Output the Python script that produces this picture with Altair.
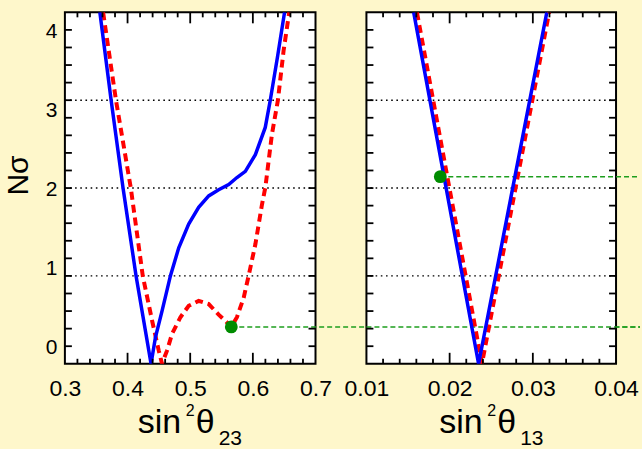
import altair as alt
import pandas as pd

# ---------------- data ----------------
# left panel: sin^2(theta23)
L_BLUE_X = [0.3558, 0.3738, 0.3928, 0.4136, 0.4375, 0.4445, 0.455, 0.4684, 0.4817,
            0.4976, 0.5135, 0.5295, 0.5454, 0.5614, 0.5746, 0.588, 0.604, 0.6198,
            0.6278, 0.6395, 0.6506]
L_BLUE_Y = [4.0, 3.0, 2.0, 1.0, 0.0, 0.30, 0.60, 1.0, 1.32,
            1.59, 1.78, 1.91, 1.98, 2.04, 2.12, 2.19, 2.38, 2.69,
            3.0, 3.5, 4.0]
L_RED_X = [0.361, 0.3815, 0.4052, 0.4243, 0.4392, 0.4498, 0.455, 0.463, 0.471,
           0.4844, 0.4976, 0.5135, 0.5295, 0.5454, 0.5587, 0.5656, 0.5746, 0.5853,
           0.5932, 0.604, 0.6145, 0.620, 0.6304, 0.640, 0.649, 0.658]
L_RED_Y = [4.0, 3.0, 2.0, 1.0, 0.49, 0.15, 0.0, 0.15, 0.34,
           0.53, 0.66, 0.716, 0.68, 0.56, 0.47, 0.42, 0.53, 0.75,
           1.0, 1.36, 1.81, 2.01, 2.61, 3.0, 3.56, 4.0]
L_DOT_X = [0.5656]
L_DOT_Y = [0.42]

# right panel: sin^2(theta13)
R_BLUE_X = [0.01568, 0.02348, 0.03168]
R_BLUE_Y = [4.0, 0.0, 4.0]
R_RED_X = [0.01607, 0.02388, 0.03196]
R_RED_Y = [4.0, 0.0, 4.0]
R_DOT_X = [0.01888]
R_DOT_Y = [2.13]

GRID_Y = [1, 2, 3]
Y_LABELS = [0, 1, 2, 3, 4]
L_XLABELS = [0.3, 0.4, 0.5, 0.6, 0.7]
R_XLABELS = [0.01, 0.02, 0.03, 0.04]
Y_TICKS = [0.2, 0.4, 0.6, 0.8, 1.0, 1.2, 1.4, 1.6, 1.8, 2.0, 2.2, 2.4, 2.6, 2.8,
           3.0, 3.2, 3.4, 3.6, 3.8]
L_XMINOR = [0.32, 0.34, 0.36, 0.38, 0.42, 0.44, 0.46, 0.48, 0.52, 0.54, 0.56, 0.58,
            0.62, 0.64, 0.66, 0.68]
L_XMAJOR = [0.4, 0.5, 0.6]
R_XMINOR = [0.012, 0.014, 0.016, 0.018, 0.022, 0.024, 0.026, 0.028, 0.032, 0.034,
            0.036, 0.038]
R_XMAJOR = [0.02, 0.03]

Y_TITLE = "Nσ"
L_TITLE = ["sin", "2", "θ", "23"]
R_TITLE = ["sin", "2", "θ", "13"]

# ---------------- style ----------------
FONT = "Liberation Sans"
BG = "#FEF7CB"
BLUE = "#0000FF"
RED = "#FF0000"
GREEN_DOT = "#008C00"
GREEN_LINE = "#1E9E1E"
W_L, W_R, H = 251, 250, 352
PAGE_W = 642
GAP = 51
LEFT_X0 = 66


def df(**cols):
    return pd.DataFrame(cols)


def panel(xdom, xlabels, xfmt, blue_x, blue_y, red_x, red_y, dot_x, dot_y,
          xminor, xmajor, title, w, x0, extra_y, with_ylabels):
    xs = alt.Scale(domain=xdom, nice=False, zero=False)
    ys = alt.Scale(domain=[0, 4], nice=False, zero=False)
    xaxis = alt.Axis(values=xlabels, format=xfmt, ticks=False, domain=False, grid=False,
                     title=None, labelFontSize=23, labelPadding=14, labelColor="black",
                     labelFont=FONT, labelOverlap=False, labelFlush=False)

    def X(f):
        return alt.X(f, type="quantitative", scale=xs, axis=xaxis)

    def Y(f):
        return alt.Y(f, type="quantitative", scale=ys, axis=None)

    layers = []
    # gridlines
    layers.append(alt.Chart(df(v=GRID_Y)).mark_rule(
        color="black", strokeWidth=1.4, strokeDash=[1.6, 3.6]).encode(y=Y("v")))
    # green dashed lines coming from the other panel
    if extra_y:
        layers.append(alt.Chart(df(y=extra_y)).mark_rule(
            color=GREEN_LINE, strokeWidth=1.5, strokeDash=[5, 3]).encode(
            y=Y("y"), x=alt.value(0), x2=alt.value(PAGE_W - x0)))
    # green dashed line from this panel's dot
    layers.append(alt.Chart(df(x=dot_x, y=dot_y)).mark_rule(
        color=GREEN_LINE, strokeWidth=1.5, strokeDash=[5, 3]).encode(
        x=X("x"), x2=alt.value(PAGE_W - x0), y=Y("y")))
    # red dashed curve
    layers.append(alt.Chart(df(x=red_x, y=red_y, i=list(range(len(red_x))))).mark_line(
        color=RED, strokeWidth=4, strokeDash=[8, 5], clip=True).encode(
        x=X("x"), y=Y("y"), order="i:Q"))
    # blue solid curve
    layers.append(alt.Chart(df(x=blue_x, y=blue_y, i=list(range(len(blue_x))))).mark_line(
        color=BLUE, strokeWidth=3.5, clip=True).encode(
        x=X("x"), y=Y("y"), order="i:Q"))
    # green dot
    layers.append(alt.Chart(df(x=dot_x, y=dot_y)).mark_circle(
        color=GREEN_DOT, size=165, opacity=1).encode(x=X("x"), y=Y("y")))
    # inward ticks
    tk = dict(color="black", strokeWidth=1.8)
    yt = alt.Chart(df(v=Y_TICKS))
    layers.append(yt.mark_rule(**tk).encode(y=Y("v"), x=alt.value(0), x2=alt.value(7)))
    layers.append(yt.mark_rule(**tk).encode(y=Y("v"), x=alt.value(w - 7), x2=alt.value(w)))
    xm = alt.Chart(df(v=xminor))
    xM = alt.Chart(df(v=xmajor))
    layers.append(xm.mark_rule(**tk).encode(x=X("v"), y=alt.value(H - 5), y2=alt.value(H)))
    layers.append(xM.mark_rule(**tk).encode(x=X("v"), y=alt.value(H - 11), y2=alt.value(H)))
    layers.append(xm.mark_rule(**tk).encode(x=X("v"), y=alt.value(0), y2=alt.value(5)))
    layers.append(xM.mark_rule(**tk).encode(x=X("v"), y=alt.value(0), y2=alt.value(11)))
    # x title as rich text: sin, superscript 2, theta, subscript
    parts = [(title[0], 34, 73, 421), (title[1], 16, 121, 404),
             (title[2], 34, 131, 421), (title[3], 21, 154, 433)]
    for (t, fs, px, py) in parts:
        layers.append(alt.Chart(df(t=[t])).mark_text(
            align="left", baseline="alphabetic", font=FONT, fontSize=fs, color="black").encode(
            text="t:N", x=alt.value(px), y=alt.value(py)))
    if with_ylabels:
        layers.append(alt.Chart(df(v=Y_LABELS)).mark_point(opacity=0).encode(
            y=alt.Y("v:Q", scale=alt.Scale(domain=[-0.2, 4.24], nice=False, zero=False),
                    axis=alt.Axis(values=Y_LABELS, format="d", ticks=False, domain=False,
                                  grid=False, title=Y_TITLE, titleFontSize=30,
                                  titleFontWeight="normal", titleFont=FONT,
                                  titleColor="black", titlePadding=12, titleY=163,
                                  labelFontSize=21, labelPadding=8, labelColor="black",
                                  labelFont=FONT, labelFlush=False))))
    ch = alt.layer(*layers).properties(width=w, height=H)
    if with_ylabels:
        ch = ch.resolve_scale(y="independent")
    return ch


left = panel([0.3, 0.7], L_XLABELS, ".1f", L_BLUE_X, L_BLUE_Y, L_RED_X, L_RED_Y,
             L_DOT_X, L_DOT_Y, L_XMINOR, L_XMAJOR, L_TITLE, W_L, LEFT_X0, None, True)

right = panel([0.01, 0.04], R_XLABELS, ".2f", R_BLUE_X, R_BLUE_Y, R_RED_X, R_RED_Y,
              R_DOT_X, R_DOT_Y, R_XMINOR, R_XMAJOR, R_TITLE, W_R,
              LEFT_X0 + W_L + GAP, L_DOT_Y, False)

chart = alt.hconcat(left, right, spacing=GAP, bounds="flush").properties(
    background=BG,
    padding={"left": 2, "top": 10, "right": 0, "bottom": 0},
).configure_view(fill="white", stroke="black", strokeWidth=2)

chart.save("out.html", embed_options={"renderer": "svg", "actions": False})
